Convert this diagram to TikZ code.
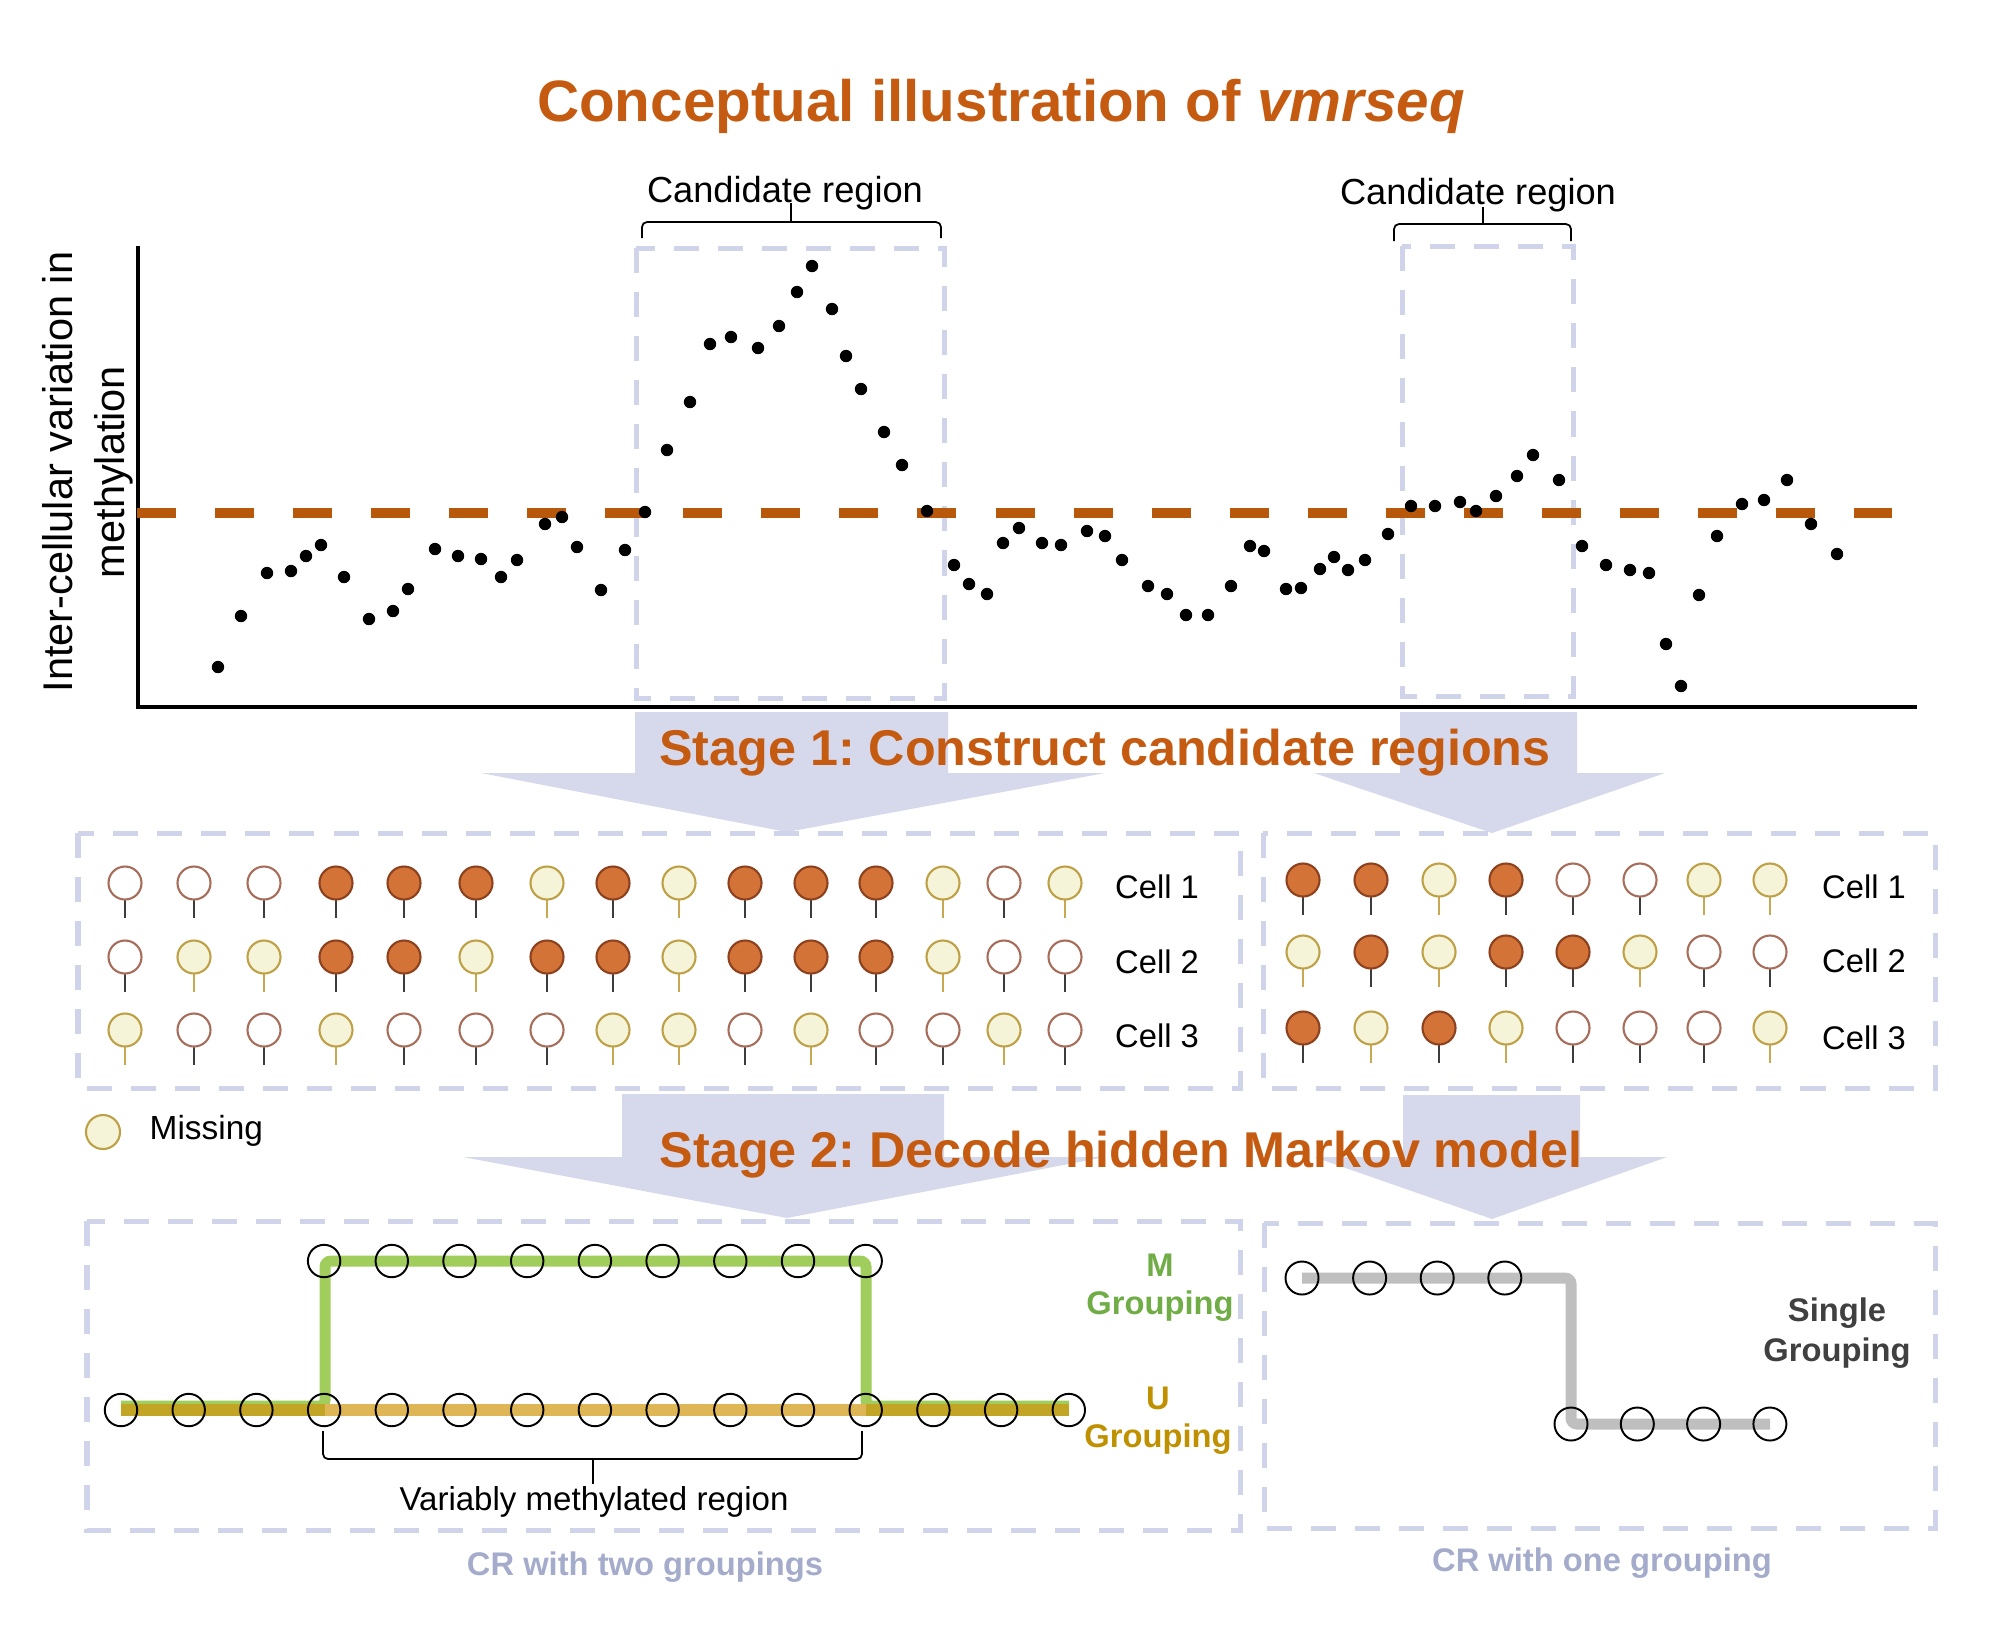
\documentclass[tikz,border=0pt]{standalone}
\usepackage{fontspec}
\setmainfont{Liberation Sans}
\frenchspacing
\usetikzlibrary{positioning}
\definecolor{vmrorange}{RGB}{197,90,17}
\definecolor{cutline}{RGB}{184,88,10}
\definecolor{softlav}{RGB}{214,217,236}
\definecolor{boxlav}{RGB}{208,212,234}
\definecolor{methfill}{RGB}{212,115,55}
\definecolor{methedge}{RGB}{140,66,30}
\definecolor{unmedge}{RGB}{166,110,90}
\definecolor{missfill}{RGB}{245,244,216}
\definecolor{missedge}{RGB}{190,160,70}
\definecolor{missstem}{RGB}{200,168,80}
\definecolor{stemdark}{RGB}{60,60,60}
\definecolor{mgreen}{RGB}{160,205,92}
\definecolor{mgreentext}{RGB}{112,173,71}
\definecolor{ugold}{RGB}{222,182,85}
\definecolor{uolive}{RGB}{195,165,38}
\definecolor{ugoldtext}{RGB}{191,144,0}
\definecolor{sgrey}{RGB}{191,191,191}
\definecolor{sgreytext}{RGB}{64,64,64}
\definecolor{crtext}{RGB}{164,171,203}

\begin{document}
\begin{tikzpicture}[x=0.01cm, y=-0.01cm, every node/.style={inner sep=0pt,align=center},
  lavbox/.style={draw=boxlav,line width=0.05cm,dash pattern=on 0.25cm off 0.19cm},
  bigarrow/.style={fill=softlav,draw=none},
  lpM/.style={draw=methedge,fill=methfill,line width=0.6pt},
  lpU/.style={draw=unmedge,fill=white,line width=0.6pt},
  lpX/.style={draw=missedge,fill=missfill,line width=0.6pt},
  stemM/.style={draw=stemdark,line width=0.6pt},
  stemU/.style={draw=stemdark,line width=0.6pt},
  stemX/.style={draw=missstem,line width=0.6pt},
  hmmstate/.style={draw=black,line width=0.55pt},
  bracket/.style={draw=black,line width=0.5pt,rounded corners=0.05cm},
  celltext/.style={font=\fontsize{9.3}{11}\selectfont},
  grouptext/.style={font=\bfseries\fontsize{9.3}{10.8}\selectfont},
  stagetext/.style={font=\bfseries\fontsize{14.3}{17}\selectfont,text=vmrorange}]
\useasboundingbox (0,0) rectangle (2000,1647);
\def\leftcols{{125,194,264,336,404,476,547,613,679,745,811,876,943,1004,1065}}
\def\rightcols{{1303,1371,1439,1506,1573,1640,1704,1770}}

\node[font=\bfseries\fontsize{16.6}{20}\selectfont,text=vmrorange,anchor=base] (title) at (1001,121) {Conceptual illustration of \textit{vmrseq}};

% scatter of variation
\draw[lavbox] (636,248) rectangle (944,698);
\draw[lavbox] (1402,246) rectangle (1573,696);
\draw[line width=0.9pt] (138,246) -- (138,707) -- (1917,707);
\node[rotate=90,font=\fontsize{11.8}{14.8}\selectfont] (ylab) at (88,472) {Inter-cellular variation in\\methylation};
\draw[draw=cutline,line width=0.094cm,dash pattern=on 0.39cm off 0.39cm] (137,513) -- (1892,513);
\foreach \px/\py in {218/667,241/616,267/573,291/571,306/556,321/545,344/577,369/619,393/611,408/589,
  435/549,458/556,481/559,501/577,517/560,545/524,562/517,577/547,601/590,625/550,645/512,667/450,
  690/402,710/344,731/337,758/348,779/326,797/292,812/266,832/309,846/356,861/389,884/432,902/465,
  927/511,954/565,969/584,987/594,1003/543,1019/528,1042/543,1061/545,1087/531,1105/536,1122/560,
  1148/586,1167/594,1186/615,1208/615,1231/586,1250/546,1264/551,1286/589,1301/588,1320/569,
  1334/557,1348/570,1365/560,1388/534,1411/506,1435/506,1460/502,1476/511,1496/496,1517/476,
  1533/455,1559/480,1582/546,1606/565,1630/570,1649/573,1666/644,1681/686,1699/595,1717/536,
  1742/504,1764/500,1787/480,1811/524,1837/554}
  \fill (\px,\py) circle (0.062cm);
\draw[bracket] (642,238) |- (941,222) -- (941,238);
\draw[bracket] (791,222) -- (791,203);
\draw[bracket] (1394,241) |- (1571,224) -- (1571,241);
\draw[bracket] (1483,224) -- (1483,207);
\node[font=\fontsize{10.3}{12}\selectfont,anchor=base] (candA) at (785,202) {Candidate region};
\node[font=\fontsize{10.3}{12}\selectfont,anchor=base] (candB) at (1478,204) {Candidate region};

% stage 1
\fill[bigarrow] (635,712) -- (948,712) -- (948,773) -- (1105,773) -- (787,832) -- (481,773) -- (635,773) -- cycle;
\fill[bigarrow] (1400,712) -- (1577,712) -- (1577,773) -- (1665,773) -- (1492,833) -- (1314,773) -- (1400,773) -- cycle;
\node[stagetext,anchor=base] (stageA) at (1105,765) {Stage 1: Construct candidate regions};

\draw[lavbox] (78,833) rectangle (1240,1088);
\draw[lavbox] (1263,833) rectangle (1935,1088);
\foreach \ry/\row in {883/{U,U,U,M,M,M,X,M,X,M,M,M,X,U,X},957/{U,X,X,M,M,X,M,M,X,M,M,M,X,U,U},1030/{X,U,U,X,U,U,U,X,X,U,X,U,U,X,U}}
  \foreach \s [count=\i from 0] in \row {
    \pgfmathsetmacro\cx{\leftcols[\i]}
    \draw[stem\s] (\cx,\ry+16) -- (\cx,\ry+35);
    \draw[lp\s] (\cx,\ry) circle (0.165cm);
  }
\foreach \ry/\row in {880/{M,M,X,M,U,U,X,X},952/{X,M,X,M,M,X,U,U},1028/{M,X,M,X,U,U,U,X}}
  \foreach \s [count=\i from 0] in \row {
    \pgfmathsetmacro\cx{\rightcols[\i]}
    \draw[stem\s] (\cx,\ry+16) -- (\cx,\ry+35);
    \draw[lp\s] (\cx,\ry) circle (0.165cm);
  }
\foreach \n/\by in {1/898,2/973,3/1047}
  \node[celltext,anchor=base] (cellL\n) at (1157,\by) {Cell \n};
\foreach \n/\by in {1/898,2/972,3/1049}
  \node[celltext,anchor=base] (cellR\n) at (1864,\by) {Cell \n};
\draw[lpX] (103,1132) circle (0.17cm);
\node[font=\fontsize{9.5}{11}\selectfont,anchor=base west] (missing) at (149,1139) {Missing};

% stage 2
\fill[bigarrow] (622,1094) -- (944,1094) -- (944,1157) -- (1105,1157) -- (787,1218) -- (463,1157) -- (622,1157) -- cycle;
\fill[bigarrow] (1403,1095) -- (1580,1095) -- (1580,1157) -- (1667,1157) -- (1492,1219) -- (1314,1157) -- (1403,1157) -- cycle;
\node[stagetext,anchor=base] (stageB) at (1121,1167) {Stage 2: Decode hidden Markov model};

\draw[lavbox] (87,1221) rectangle (1240,1530);
\draw[lavbox] (1264,1223) rectangle (1935,1528);
\draw[mgreen,line width=0.11cm,rounded corners=0.06cm] (121,1406) -- (325,1406) -- (325,1261) -- (866,1261) -- (866,1406) -- (1069,1406);
\draw[ugold,line width=0.12cm] (121,1410) -- (1069,1410);
\draw[uolive,line width=0.12cm] (121,1410) -- (325,1410) (866,1410) -- (1069,1410);
\foreach \k in {3,...,11}
  \draw[hmmstate] (121+67.7*\k,1261) circle (0.162cm);
\foreach \k in {0,...,14}
  \draw[hmmstate] (121+67.7*\k,1410) circle (0.162cm);
\draw[bracket] (323,1431) |- (862,1459) -- (862,1431);
\draw[bracket] (593,1459) -- (593,1484);
\node[font=\fontsize{9.4}{11}\selectfont,anchor=base] (vmr) at (594,1510) {Variably methylated region};
\node[grouptext,text=mgreentext] (mgroup) at (1160,1288) {M\\Grouping};
\node[grouptext,text=ugoldtext] (ugroup) at (1158,1421) {U\\Grouping};

\draw[sgrey,line width=0.11cm,rounded corners=0.06cm] (1302,1278) -- (1571,1278) -- (1571,1424) -- (1770,1424);
\foreach \k in {0,...,3}
  \draw[hmmstate] (1302+67.6*\k,1278) circle (0.165cm);
\foreach \k in {0,...,3}
  \draw[hmmstate] (1571+66.3*\k,1424) circle (0.165cm);
\node[grouptext,text=sgreytext,font=\bfseries\fontsize{9.3}{11.4}\selectfont] (single) at (1837,1333) {Single\\Grouping};

\node[grouptext,text=crtext,anchor=base] (crtwo) at (645,1575) {CR with two groupings};
\node[grouptext,text=crtext,anchor=base] (crone) at (1602,1571) {CR with one grouping};
\end{tikzpicture}
\end{document}
